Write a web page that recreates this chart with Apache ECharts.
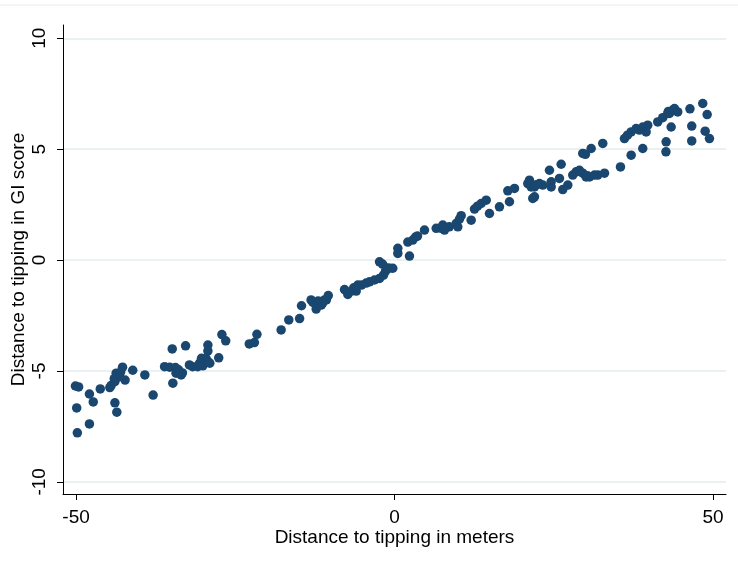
<!DOCTYPE html>
<html>
<head>
<meta charset="utf-8">
<script src="https://cdn.jsdelivr.net/npm/echarts@6/dist/echarts.min.js"></script>
<style>html,body{margin:0;padding:0;background:#fff}#c{width:738px;height:570px}</style>
</head>
<body>
<div id="c"></div>
<script>
// Distance to tipping in meters
const xMeters = [
-50.1,-49.6,-49.9,-49.8,-47.9,-47.9,-47.3,-46.2,-44.7,-44.5,-43.9,-43.7,-43.2,-42.7,-42.3,-43.9,-43.6,-41.1,-39.2,-37.9,
-36.1,-35.3,-34.4,-34.3,-34.8,-33.5,-34.9,-32.8,-33.3,-32.2,-31.7,-30.9,-30.3,-30.1,-29.6,-29.3,-29.0,-29.3,-29.3,-27.6,
-27.1,-26.5,-22.8,-22.0,-21.6,-17.8,-16.6,-14.9,-14.6,-13.1,-12.8,-12.3,-12.0,-11.8,-11.5,-11.0,-10.7,-10.4,-7.85,-7.33,
-6.75,-6.01,-5.76,-5.18,-4.44,-3.92,-3.14,-2.35,-1.73,-1.41,-0.78,-2.35,-1.88,-1.10,-0.27,0.52,0.52,2.35,2.09,2.87,
3.30,3.61,4.71,6.55,7.33,7.58,7.85,9.69,9.94,10.47,10.20,12.04,12.56,13.03,13.61,14.40,14.91,16.48,18.05,17.79,
18.84,21.19,20.93,21.46,21.98,22.76,21.71,21.98,24.33,24.60,24.60,23.28,25.90,26.17,26.42,27.21,27.99,28.52,29.04,29.56,
30.09,30.61,31.40,31.92,32.97,29.56,29.98,30.88,32.70,35.48,37.16,38.98,36.11,36.58,37.16,37.94,38.46,38.98,39.51,39.76,
39.51,41.33,42.12,42.90,43.17,43.69,43.96,44.47,43.44,42.65,42.62,46.39,46.67,46.67,48.40,49.09,48.78,49.45,
-44.0,-43.0,-33.9,-30.6,-11.3,-6.4,8.6,22.3,30.3,43.0
];
// Distance to tipping in GI score
const yGI = [
-5.68,-5.72,-6.67,-7.79,-7.39,-6.04,-6.40,-5.81,-5.75,-5.66,-5.48,-5.10,-5.26,-4.83,-5.41,-6.44,-6.86,-4.97,-5.18,-6.09,
-4.81,-4.83,-4.85,-5.10,-5.55,-5.18,-4.01,-3.87,-5.09,-4.73,-4.81,-4.81,-4.43,-4.77,-4.43,-4.58,-4.65,-3.83,-4.10,-4.41,
-3.36,-3.64,-3.78,-3.72,-3.35,-3.15,-2.70,-2.64,-2.06,-1.80,-1.91,-2.21,-1.85,-1.89,-2.03,-1.80,-1.80,-1.60,-1.33,-1.55,
-1.40,-1.40,-1.13,-1.13,-1.04,-0.98,-0.90,-0.83,-0.68,-0.50,-0.37,-0.08,-0.18,-0.36,-0.37,0.53,0.30,0.18,0.81,0.90,
1.04,1.08,1.35,1.43,1.43,1.58,1.35,1.65,1.50,2.00,1.85,1.80,2.30,2.43,2.55,2.70,2.10,2.40,2.63,3.12,
3.23,3.60,3.45,3.30,3.30,3.45,2.78,2.85,4.05,3.53,3.30,3.38,3.68,4.32,3.18,3.38,3.83,3.98,4.05,3.92,
3.75,3.75,3.83,3.83,3.92,4.81,4.77,5.03,5.26,4.20,4.73,5.03,5.48,5.63,5.78,5.93,5.86,6.00,6.00,6.08,
5.78,6.23,6.42,6.61,6.61,6.76,6.83,6.68,6.00,5.33,4.88,6.82,6.04,5.37,7.06,6.56,5.81,5.48,
-5.35,-5.05,-4.95,-4.65,-1.95,-1.25,1.50,3.40,3.80,6.70
];
const xTicks = [-50, 0, 50];
const yTicks = [-10, -5, 0, 5, 10];

const points = xMeters.map((x, i) => [x, yGI[i]]);
const font = 'Liberation Sans, Arial, sans-serif';

const chart = echarts.init(document.getElementById('c'), null, {renderer: 'canvas'});
chart.setOption({
  backgroundColor: '#ffffff',
  animation: false,
  graphic: [{
    type: 'line', shape: {x1: 0, y1: 5, x2: 738, y2: 5},
    style: {stroke: '#e6eef1', lineWidth: 1}, silent: true
  }],
  grid: {left: 63, right: 12, top: 25, bottom: 76, containLabel: false, outerBoundsMode: 'none'},
  xAxis: {
    type: 'value', min: -52.05, max: 52.05,
    name: 'Distance to tipping in meters', nameLocation: 'middle', nameGap: 34, nameMoveOverlap: false,
    nameTextStyle: {fontFamily: font, fontSize: 19, color: '#000'},
    axisLine: {show: true, onZero: false, lineStyle: {color: '#000', width: 1}},
    axisTick: {show: true, inside: false, length: 6, customValues: xTicks, lineStyle: {color: '#000'}},
    axisLabel: {customValues: xTicks, fontFamily: font, fontSize: 19, color: '#000', margin: 14},
    splitLine: {show: false}
  },
  yAxis: {
    type: 'value', min: -10.55, max: 10.6,
    name: 'Distance to tipping in GI score', nameLocation: 'middle', nameGap: 35, nameMoveOverlap: false, nameRotate: 90,
    nameTextStyle: {fontFamily: font, fontSize: 19, color: '#000'},
    axisLine: {show: true, onZero: false, lineStyle: {color: '#000', width: 1}},
    axisTick: {show: true, inside: false, length: 6, customValues: yTicks, lineStyle: {color: '#000'}},
    axisLabel: {customValues: yTicks, rotate: 90, fontFamily: font, fontSize: 19, color: '#000', margin: 14},
    splitLine: {show: true, lineStyle: {color: '#e2ecef', width: 1.5}}
  },
  series: [{
    type: 'scatter',
    data: points,
    symbol: 'circle',
    symbolSize: 9.5,
    itemStyle: {color: '#1a476f', opacity: 1}
  }]
});
</script>
</body>
</html>
